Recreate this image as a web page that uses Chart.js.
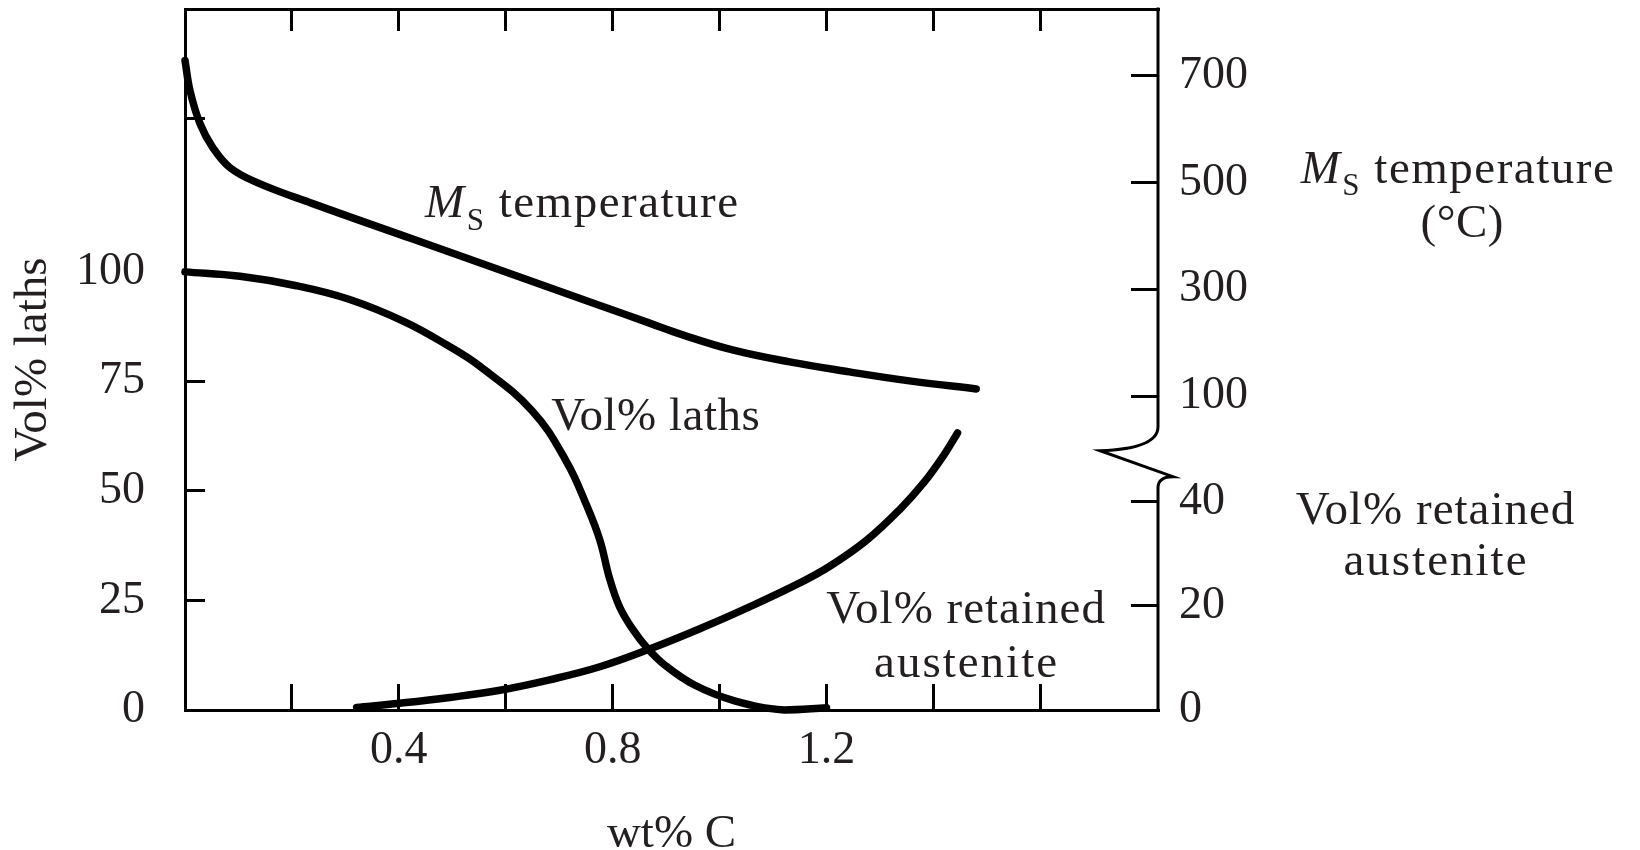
<!DOCTYPE html>
<html>
<head>
<meta charset="utf-8">
<script src="https://cdn.jsdelivr.net/npm/chart.js@4.4.1/dist/chart.umd.min.js"></script>
<style>
  html, body { margin: 0; padding: 0; background: #ffffff; }
  #wrap { width: 1640px; height: 850px; }
</style>
</head>
<body>
<div id="wrap"><canvas id="c" width="1640" height="850"></canvas></div>
<script>
// ---------------- data ----------------
const wtMs   = [0, 0.0093, 0.028, 0.052, 0.084, 0.135, 0.239, 0.426, 0.613, 0.776, 0.869, 0.931, 1.024, 1.131, 1.243, 1.355, 1.48];
const msTemp = [728.7, 672.4, 610.6, 565.6, 528.1, 500, 460.6, 394.2, 327.8, 270, 236.9, 214.9, 186.8, 164.3, 145.6, 128.7, 113.7];

const wtLaths  = [0, 0.103, 0.206, 0.308, 0.411, 0.49, 0.551, 0.65, 0.714, 0.751, 0.776, 0.794, 0.813, 0.837, 0.864, 0.897, 0.953, 1.028, 1.121, 1.2];
const volLaths = [100, 99.0, 96.9, 93.7, 88.6, 83.3, 78.5, 68.2, 56.6, 46.8, 38.8, 30.1, 23.5, 18.5, 14.2, 10.3, 5.7, 2.1, 0, 0.5];

const wtRA  = [0.321, 0.402, 0.495, 0.589, 0.682, 0.776, 0.869, 0.963, 1.056, 1.15, 1.206, 1.275, 1.336, 1.383, 1.421, 1.445];
const volRA = [0.5, 1.3, 2.4, 3.8, 5.8, 8.3, 11.7, 15.6, 19.8, 24.4, 27.6, 32.6, 38.4, 43.8, 49.2, 53.2];

// ---------------- tick labels ----------------
const xTickValues     = [0.2, 0.4, 0.6, 0.8, 1.0, 1.2, 1.4, 1.6];
const xTickLabels     = ['', '0.4', '', '0.8', '', '1.2', '', ''];
const lathTickValues  = [0, 25, 50, 75, 100, 135];
const lathTickLabels  = ['0', '25', '50', '75', '100', ''];
const tempTickValues  = [100, 300, 500, 700];
const tempTickLabels  = ['100', '300', '500', '700'];
const raTickValues    = [0, 20, 40];
const raTickLabels    = ['0', '20', '40'];

// ---------------- styling ----------------
const FONT = '"Liberation Serif", "Times New Roman", serif';
const TXT = '#231f20';
const TICK_FONT = { family: FONT, size: 46 };
const LABEL_SIZE = 47;

function pts(xs, ys) { return xs.map((x, i) => ({ x: x, y: ys[i] })); }

function setTicks(values) {
  return function (scale) { scale.ticks = values.map(v => ({ value: v })); };
}
function fixSize(prop, size) {
  return function (scale) {
    scale[prop] = size;
    scale.paddingTop = 0; scale.paddingBottom = 0;
    scale.paddingLeft = 0; scale.paddingRight = 0;
  };
}

function msWidth(ctx, size, tail) {
  const sub = Math.round(size * 0.66);
  ctx.font = 'italic ' + size + 'px ' + FONT;
  let w = ctx.measureText('M').width + 1;
  ctx.font = sub + 'px ' + FONT;
  w += ctx.measureText('S').width;
  ctx.font = size + 'px ' + FONT;
  w += ctx.measureText(' ' + tail).width;
  return w;
}
function drawMs(ctx, x, baseline, size, tail) {
  const sub = Math.round(size * 0.66);
  ctx.textAlign = 'left';
  ctx.textBaseline = 'alphabetic';
  ctx.font = 'italic ' + size + 'px ' + FONT;
  ctx.fillText('M', x, baseline);
  x += ctx.measureText('M').width + 1;
  ctx.font = sub + 'px ' + FONT;
  ctx.fillText('S', x, baseline + size * 0.27);
  x += ctx.measureText('S').width;
  ctx.font = size + 'px ' + FONT;
  ctx.fillText(' ' + tail, x, baseline);
}
function label(ctx, text, x, y, spacing) {
  ctx.save();
  ctx.letterSpacing = spacing + 'px';
  ctx.font = LABEL_SIZE + 'px ' + FONT;
  ctx.textAlign = 'center';
  ctx.textBaseline = 'alphabetic';
  ctx.fillText(text, x + spacing / 2, y);
  ctx.restore();
}

const annotPlugin = {
  id: 'annot',
  afterDraw(chart) {
    const { ctx, chartArea, scales } = chart;
    const X = scales.x, YL = scales.yL, YT = scales.yT, YR = scales.yR;
    const R = chartArea.right;
    ctx.save();

    // right axis line with break symbol
    ctx.strokeStyle = '#000';
    ctx.lineWidth = 3;
    const yb = YT.bottom;
    ctx.beginPath();
    ctx.moveTo(R, chartArea.top - 1.5);
    ctx.lineTo(R, yb - 23);
    ctx.quadraticCurveTo(R, yb - 1, R - 58, yb + 1);
    ctx.lineTo(R + 15, yb + 27);
    ctx.quadraticCurveTo(R, yb + 27, R, yb + 38);
    ctx.lineTo(R, chartArea.bottom + 1.5);
    ctx.stroke();

    ctx.fillStyle = TXT;

    // curve labels inside the plot
    ctx.save();
    ctx.letterSpacing = '1.5px';
    drawMs(ctx, X.getPixelForValue(0.449), YT.getPixelForValue(435), LABEL_SIZE, 'temperature');
    ctx.restore();
    label(ctx, 'Vol% laths', X.getPixelForValue(0.88), YL.getPixelForValue(64), 0.5);
    label(ctx, 'Vol% retained', X.getPixelForValue(1.46), YR.getPixelForValue(16.7), 1);
    label(ctx, 'austenite', X.getPixelForValue(1.46), YR.getPixelForValue(6.3), 2);

    // right-hand axis titles
    ctx.save();
    ctx.letterSpacing = '1.5px';
    const wMs = msWidth(ctx, LABEL_SIZE, 'temperature');
    drawMs(ctx, R + 300 - wMs / 2, YT.getPixelForValue(500), LABEL_SIZE, 'temperature');
    ctx.restore();
    label(ctx, '(\u00B0C)', R + 304, YT.getPixelForValue(398), 0.5);
    label(ctx, 'Vol% retained', R + 277, YR.getPixelForValue(35.7), 1);
    label(ctx, 'austenite', R + 277, YR.getPixelForValue(25.9), 2);

    ctx.restore();
  }
};

const lineStyle = {
  borderColor: '#000',
  borderWidth: 7.5,
  pointRadius: 0,
  fill: false,
  tension: 0.4,
  cubicInterpolationMode: 'default',
  borderCapStyle: 'round',
  borderJoinStyle: 'round',
  clip: false
};

const gridTicks = (len) => ({
  display: true, drawOnChartArea: false, drawTicks: true,
  tickLength: len, color: '#000', lineWidth: 3
});
const axisBorder = { display: true, color: '#000', width: 3 };

new Chart(document.getElementById('c'), {
  type: 'line',
  data: {
    datasets: [
      Object.assign({ label: 'MS temperature', data: pts(wtMs, msTemp), yAxisID: 'yT' }, lineStyle),
      Object.assign({ label: 'Vol% laths', data: pts(wtLaths, volLaths), yAxisID: 'yL' }, lineStyle),
      Object.assign({ label: 'Vol% retained austenite', data: pts(wtRA, volRA), yAxisID: 'yR' }, lineStyle)
    ]
  },
  options: {
    responsive: false,
    animation: false,
    layout: { padding: 0, autoPadding: false },
    plugins: { legend: { display: false }, tooltip: { enabled: false } },
    scales: {
      x: {
        type: 'linear', position: 'bottom', min: 0, max: 1.82,
        afterBuildTicks: setTicks(xTickValues),
        afterFit: fixSize('height', 140),
        ticks: {
          callback: (v, i) => xTickLabels[i],
          font: TICK_FONT, color: TXT, padding: 39, maxRotation: 0, autoSkip: false
        },
        grid: gridTicks(-26),
        border: axisBorder,
        title: {
          display: true, text: 'wt% C', color: TXT,
          font: { family: FONT, size: LABEL_SIZE, lineHeight: 0.5 },
          padding: { top: 0, bottom: 4 }
        }
      },
      xTop: {
        type: 'linear', position: 'top', min: 0, max: 1.82,
        afterBuildTicks: setTicks(xTickValues),
        afterFit: fixSize('height', 9),
        ticks: { display: false },
        grid: gridTicks(-22),
        border: axisBorder
      },
      yL: {
        type: 'linear', position: 'left', min: 0, max: 160,
        afterBuildTicks: setTicks(lathTickValues),
        afterFit: fixSize('width', 185),
        ticks: {
          callback: (v, i) => lathTickLabels[i],
          font: TICK_FONT, color: TXT, padding: 60, autoSkip: false
        },
        grid: gridTicks(-20),
        border: axisBorder,
        title: {
          display: true, text: 'Vol% laths', color: TXT,
          font: { family: FONT, size: LABEL_SIZE, lineHeight: 0.5 },
          padding: { top: 22, bottom: 0 }
        }
      },
      yT: {
        type: 'linear', position: 'right', stack: 'right', stackWeight: 440,
        min: 0, max: 825,
        afterBuildTicks: setTicks(tempTickValues),
        afterFit: fixSize('width', 482),
        ticks: {
          callback: (v, i) => tempTickLabels[i],
          font: TICK_FONT, color: TXT, padding: 48, autoSkip: false
        },
        grid: gridTicks(-27),
        border: { display: false }
      },
      yR: {
        type: 'linear', position: 'right', stack: 'right', stackWeight: 260,
        min: 0, max: 50,
        afterBuildTicks: setTicks(raTickValues),
        afterFit: fixSize('width', 482),
        ticks: {
          callback: (v, i) => raTickLabels[i],
          font: TICK_FONT, color: TXT, padding: 48, autoSkip: false
        },
        grid: gridTicks(-27),
        border: { display: false }
      }
    }
  },
  plugins: [annotPlugin]
});
</script>
</body>
</html>
